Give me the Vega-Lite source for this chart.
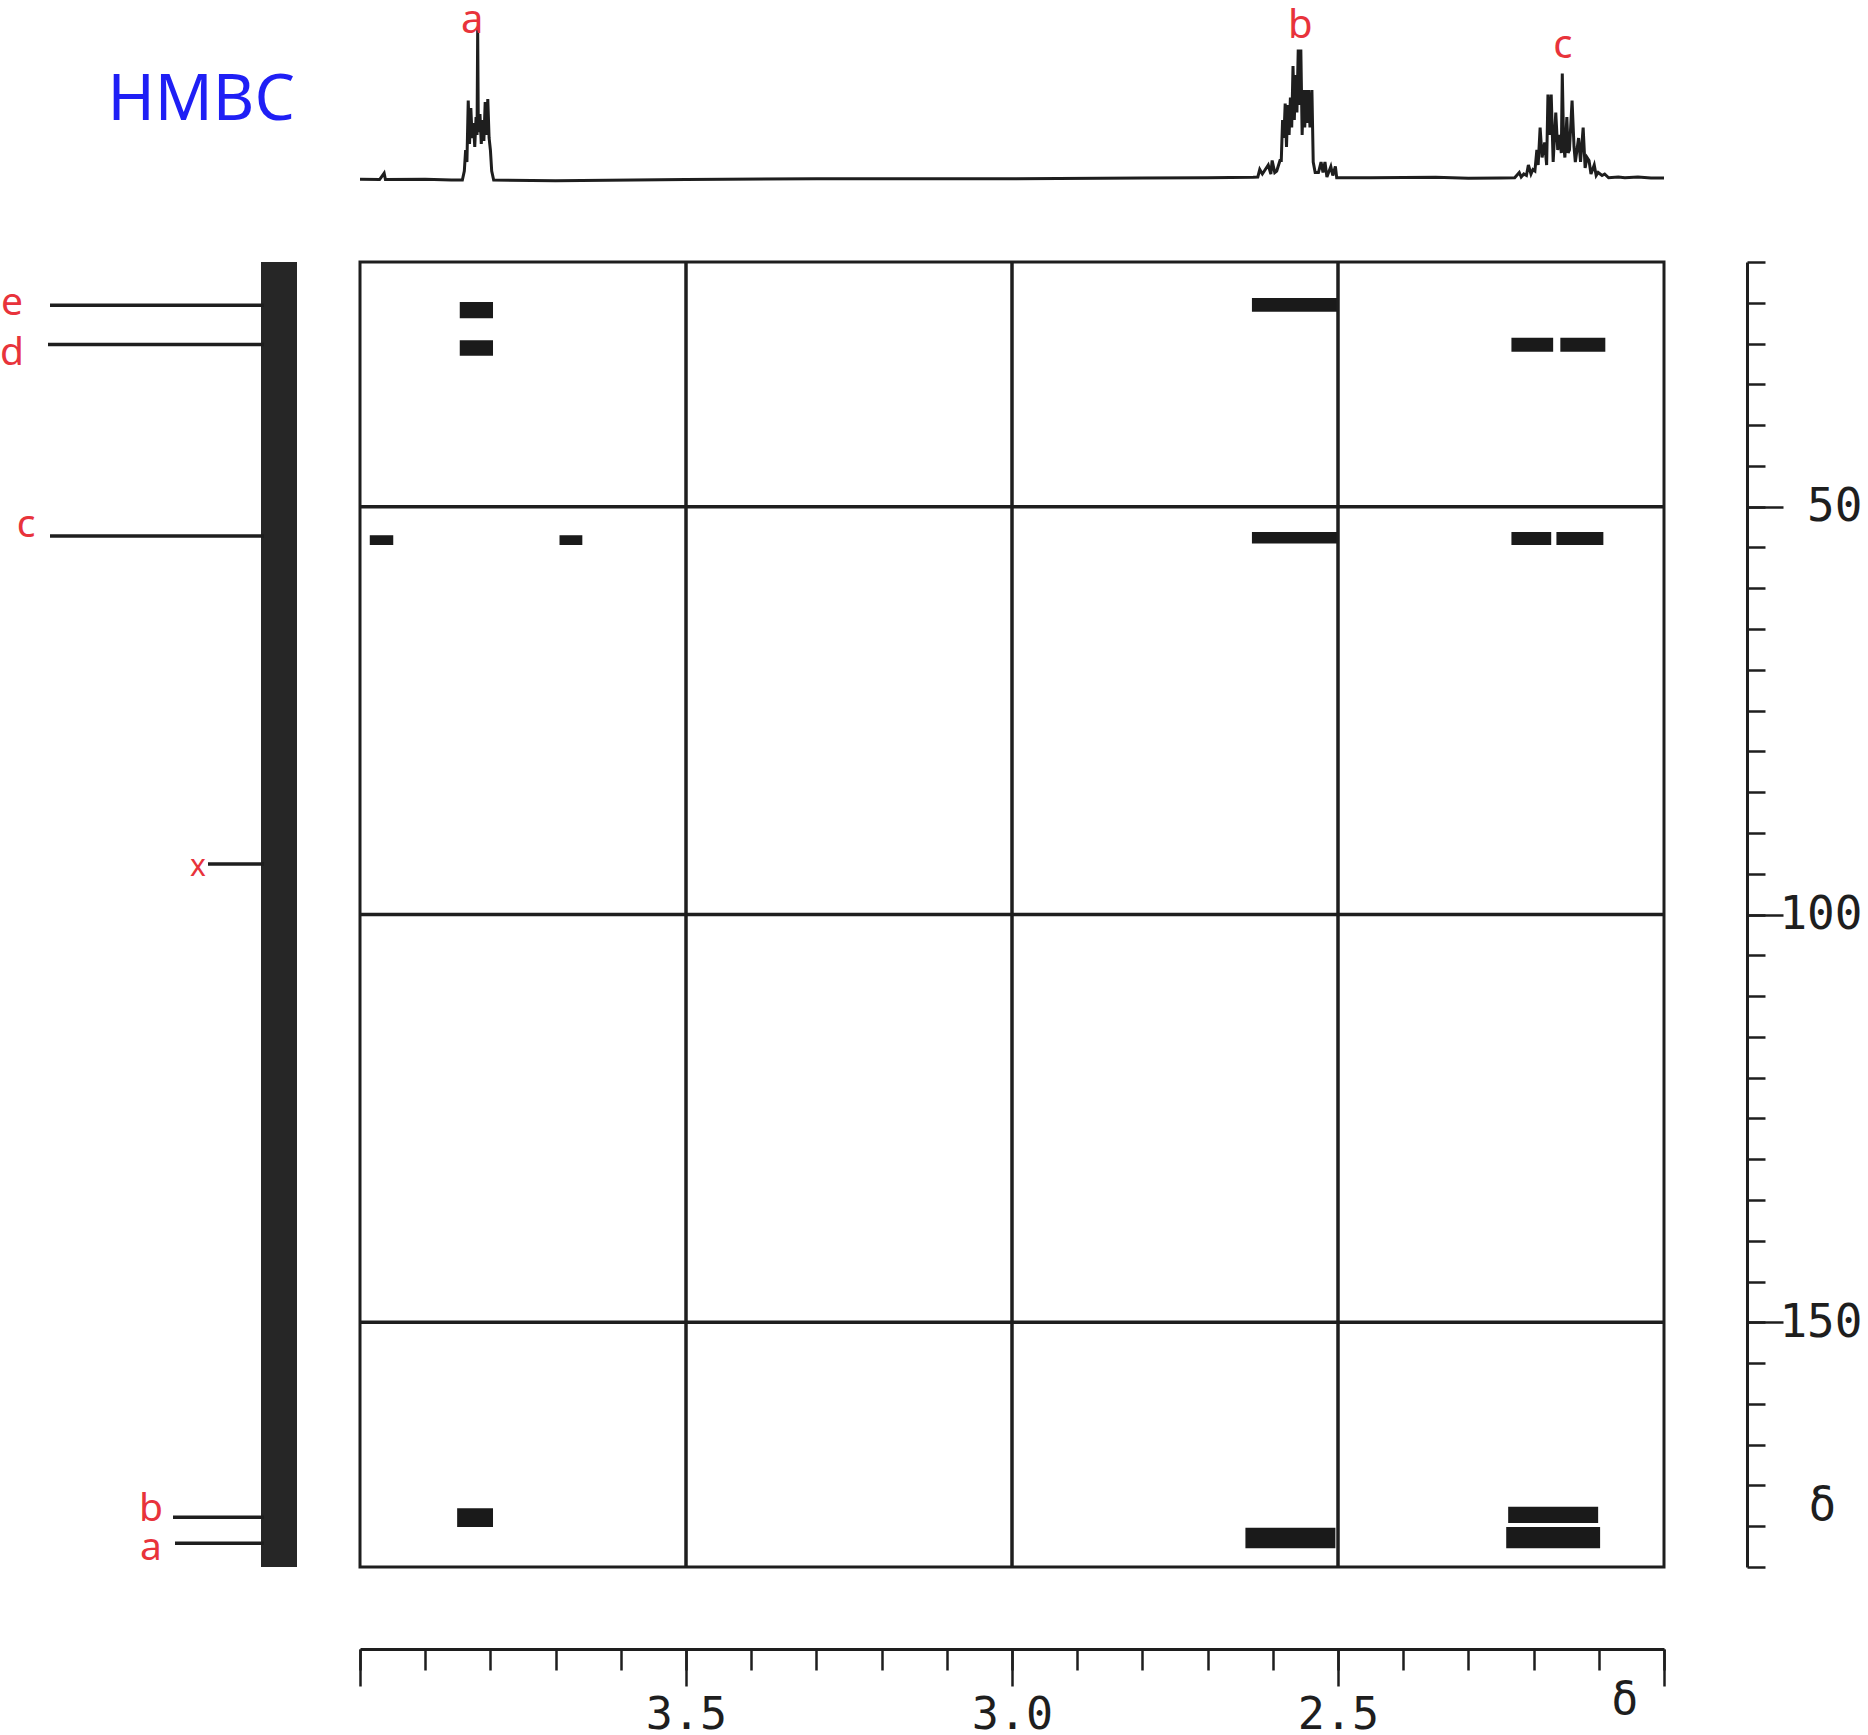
{
  "$schema": "https://vega.github.io/schema/vega-lite/v6.json",
  "padding": 0,
  "background": "white",
  "columns": 2,
  "spacing": {"row": 61, "column": 62},
  "bounds": "flush",
  "align": "each",
  "config": {"view": {"stroke": null}, "axis": {"grid": false, "labelFlush": false, "title": null, "labelOverlap": false, "labelBound": false}},
  "concat": [
    {
      "width": 298, "height": 201,
      "data": {"values": [{"label": "HMBC", "px": 0.675, "py": 0.5}]},
      "mark": {"type": "text", "font": "Noto Sans", "fontSize": 64, "color": "#1f1ff5", "align": "center", "baseline": "middle"},
      "encoding": {
        "x": {"field": "px", "type": "quantitative", "scale": {"domain": [0, 1]}, "axis": null},
        "y": {"field": "py", "type": "quantitative", "scale": {"domain": [0, 1]}, "axis": null},
        "text": {"field": "label"}
      }
    },
    {
      "width": 1304, "height": 201,
      "layer": [
        {
          "data": {"values": [
            {"h": 4.0, "i": 0.5}, {"h": 3.97, "i": 0.3}, {"h": 3.963, "i": 4.5}, {"h": 3.961, "i": 0.3}, {"h": 3.9, "i": 0.5}, {"h": 3.86, "i": 0}, {"h": 3.843, "i": 0},
            {"h": 3.840, "i": 6}, {"h": 3.838, "i": 20}, {"h": 3.836, "i": 12}, {"h": 3.834, "i": 53}, {"h": 3.832, "i": 24}, {"h": 3.830, "i": 48}, {"h": 3.828, "i": 28}, {"h": 3.826, "i": 38}, {"h": 3.824, "i": 22}, {"h": 3.822, "i": 42}, {"h": 3.8205, "i": 30}, {"h": 3.8195, "i": 101}, {"h": 3.8185, "i": 32}, {"h": 3.816, "i": 44}, {"h": 3.814, "i": 24}, {"h": 3.812, "i": 40}, {"h": 3.810, "i": 26}, {"h": 3.808, "i": 52}, {"h": 3.806, "i": 30}, {"h": 3.804, "i": 54}, {"h": 3.802, "i": 28}, {"h": 3.800, "i": 20}, {"h": 3.798, "i": 6}, {"h": 3.795, "i": 0},
            {"h": 3.7, "i": -0.5}, {"h": 3.5, "i": 0.3}, {"h": 3.3, "i": 0.8}, {"h": 3.0, "i": 0.8}, {"h": 2.8, "i": 1.3}, {"h": 2.7, "i": 1.5}, {"h": 2.63, "i": 1.8}, {"h": 2.623, "i": 2},
            {"h": 2.620, "i": 7}, {"h": 2.616, "i": 4}, {"h": 2.613, "i": 6}, {"h": 2.607, "i": 10}, {"h": 2.603, "i": 4}, {"h": 2.601, "i": 13}, {"h": 2.597, "i": 5}, {"h": 2.594, "i": 6}, {"h": 2.589, "i": 13}, {"h": 2.587, "i": 13}, {"h": 2.585, "i": 40}, {"h": 2.583, "i": 28}, {"h": 2.581, "i": 51}, {"h": 2.579, "i": 22}, {"h": 2.577, "i": 50}, {"h": 2.575, "i": 30}, {"h": 2.573, "i": 55}, {"h": 2.571, "i": 35}, {"h": 2.569, "i": 76}, {"h": 2.567, "i": 40}, {"h": 2.565, "i": 70}, {"h": 2.563, "i": 45}, {"h": 2.561, "i": 87}, {"h": 2.559, "i": 50}, {"h": 2.557, "i": 87}, {"h": 2.555, "i": 30}, {"h": 2.553, "i": 60}, {"h": 2.551, "i": 35}, {"h": 2.549, "i": 60}, {"h": 2.547, "i": 38}, {"h": 2.545, "i": 60}, {"h": 2.543, "i": 35}, {"h": 2.540, "i": 60}, {"h": 2.538, "i": 12}, {"h": 2.535, "i": 5}, {"h": 2.530, "i": 5}, {"h": 2.526, "i": 12}, {"h": 2.523, "i": 5}, {"h": 2.520, "i": 12}, {"h": 2.517, "i": 2}, {"h": 2.511, "i": 9}, {"h": 2.508, "i": 3}, {"h": 2.504, "i": 9}, {"h": 2.502, "i": 1.5},
            {"h": 2.45, "i": 1.5}, {"h": 2.35, "i": 1.8}, {"h": 2.30, "i": 1.2}, {"h": 2.25, "i": 1.3}, {"h": 2.229, "i": 1.5},
            {"h": 2.222, "i": 5}, {"h": 2.219, "i": 2}, {"h": 2.215, "i": 4}, {"h": 2.211, "i": 3}, {"h": 2.208, "i": 10}, {"h": 2.204, "i": 4}, {"h": 2.201, "i": 7}, {"h": 2.198, "i": 6}, {"h": 2.195, "i": 20}, {"h": 2.193, "i": 10}, {"h": 2.190, "i": 35}, {"h": 2.187, "i": 15}, {"h": 2.183, "i": 25}, {"h": 2.180, "i": 10}, {"h": 2.178, "i": 57}, {"h": 2.175, "i": 30}, {"h": 2.173, "i": 57}, {"h": 2.170, "i": 12}, {"h": 2.166, "i": 45}, {"h": 2.163, "i": 20}, {"h": 2.160, "i": 30}, {"h": 2.1575, "i": 18}, {"h": 2.156, "i": 71}, {"h": 2.154, "i": 25}, {"h": 2.152, "i": 15}, {"h": 2.149, "i": 42}, {"h": 2.147, "i": 18}, {"h": 2.145, "i": 20}, {"h": 2.141, "i": 53}, {"h": 2.138, "i": 22}, {"h": 2.136, "i": 12}, {"h": 2.131, "i": 28}, {"h": 2.128, "i": 12}, {"h": 2.124, "i": 35}, {"h": 2.121, "i": 8}, {"h": 2.118, "i": 15}, {"h": 2.115, "i": 13}, {"h": 2.112, "i": 4}, {"h": 2.107, "i": 10}, {"h": 2.104, "i": 3}, {"h": 2.101, "i": 5}, {"h": 2.095, "i": 3}, {"h": 2.091, "i": 4}, {"h": 2.085, "i": 1.5}, {"h": 2.07, "i": 2}, {"h": 2.06, "i": 1.5}, {"h": 2.04, "i": 2}, {"h": 2.02, "i": 1.3}, {"h": 2.0, "i": 1.3}
          ]},
          "mark": {"type": "line", "color": "#1e1e1e", "strokeWidth": 3},
          "encoding": {
            "x": {"field": "h", "type": "quantitative", "scale": {"domain": [2, 4], "reverse": true, "nice": false, "zero": false}, "axis": null},
            "y": {"field": "i", "type": "quantitative", "scale": {"domain": [-14, 120], "nice": false, "zero": false}, "axis": null}
          }
        },
        {
          "data": {"values": [{"h": 3.828, "i": 98, "t": "a"}, {"h": 2.558, "i": 94.7, "t": "b"}, {"h": 2.155, "i": 81.3, "t": "c"}]},
          "mark": {"type": "text", "font": "Noto Sans", "fontSize": 40, "color": "#e8333b", "align": "center", "baseline": "alphabetic"},
          "encoding": {
            "x": {"field": "h", "type": "quantitative", "scale": {"domain": [2, 4], "reverse": true, "nice": false, "zero": false}, "axis": null},
            "y": {"field": "i", "type": "quantitative", "scale": {"domain": [-14, 120], "nice": false, "zero": false}, "axis": null},
            "text": {"field": "t"}
          }
        }
      ]
    },
    {
      "width": 298, "height": 1305,
      "layer": [
        {
          "data": {"values": [{"li1": -19, "li2": 17, "lc1": 20, "lc2": 180}]},
          "mark": {"type": "rect", "color": "#262626"},
          "encoding": {
            "x": {"field": "li1", "type": "quantitative", "scale": {"domain": [-20, 278], "reverse": true, "nice": false, "zero": false}, "axis": null},
            "x2": {"field": "li2"},
            "y": {"field": "lc1", "type": "quantitative", "scale": {"domain": [20, 180], "reverse": true, "nice": false, "zero": false}, "axis": null},
            "y2": {"field": "lc2"}
          }
        },
        {
          "data": {"values": [
            {"li1": 228, "li2": 14, "lc": 25.3}, {"li1": 230, "li2": 14, "lc": 30.1}, {"li1": 228, "li2": 14, "lc": 53.6},
            {"li1": 70, "li2": 14, "lc": 93.8}, {"li1": 105, "li2": 14, "lc": 173.9}, {"li1": 103, "li2": 14, "lc": 177.1}
          ]},
          "mark": {"type": "rule", "color": "#1e1e1e", "strokeWidth": 3.5},
          "encoding": {
            "x": {"field": "li1", "type": "quantitative", "scale": {"domain": [-20, 278], "reverse": true, "nice": false, "zero": false}, "axis": null},
            "x2": {"field": "li2"},
            "y": {"field": "lc", "type": "quantitative", "scale": {"domain": [20, 180], "reverse": true, "nice": false, "zero": false}, "axis": null}
          }
        },
        {
          "data": {"values": [
            {"li": 266, "lc": 26.5, "t": "e"}, {"li": 266, "lc": 32.6, "t": "d"}, {"li": 252, "lc": 53.7, "t": "c"},
            {"li": 127, "lc": 174.3, "t": "b"}, {"li": 127, "lc": 179.2, "t": "a"}
          ]},
          "mark": {"type": "text", "font": "Noto Sans", "fontSize": 39, "color": "#e8333b", "align": "center", "baseline": "alphabetic"},
          "encoding": {
            "x": {"field": "li", "type": "quantitative", "scale": {"domain": [-20, 278], "reverse": true, "nice": false, "zero": false}, "axis": null},
            "y": {"field": "lc", "type": "quantitative", "scale": {"domain": [20, 180], "reverse": true, "nice": false, "zero": false}, "axis": null},
            "text": {"field": "t"}
          }
        },
        {
          "data": {"values": [{"li": 80, "lc": 95.3, "t": "x"}]},
          "mark": {"type": "text", "font": "Noto Sans", "fontSize": 30, "color": "#e8333b", "align": "center", "baseline": "alphabetic"},
          "encoding": {
            "x": {"field": "li", "type": "quantitative", "scale": {"domain": [-20, 278], "reverse": true, "nice": false, "zero": false}, "axis": null},
            "y": {"field": "lc", "type": "quantitative", "scale": {"domain": [20, 180], "reverse": true, "nice": false, "zero": false}, "axis": null},
            "text": {"field": "t"}
          }
        }
      ]
    },
    {
      "width": 1304, "height": 1305,
      "view": {"stroke": "#1e1e1e", "strokeWidth": 3},
      "resolve": {"axis": {"x": "independent", "y": "independent"}},
      "layer": [
        {
          "data": {"values": [
            {"x1": 3.847, "x2": 3.796, "c1": 24.9, "c2": 26.9},
            {"x1": 3.847, "x2": 3.796, "c1": 29.6, "c2": 31.5},
            {"x1": 3.985, "x2": 3.949, "c1": 53.5, "c2": 54.7},
            {"x1": 3.694, "x2": 3.659, "c1": 53.5, "c2": 54.7},
            {"x1": 2.632, "x2": 2.501, "c1": 24.4, "c2": 26.1},
            {"x1": 2.234, "x2": 2.170, "c1": 29.3, "c2": 31.0},
            {"x1": 2.159, "x2": 2.090, "c1": 29.3, "c2": 31.0},
            {"x1": 2.632, "x2": 2.501, "c1": 53.1, "c2": 54.5},
            {"x1": 2.234, "x2": 2.173, "c1": 53.1, "c2": 54.7},
            {"x1": 2.165, "x2": 2.093, "c1": 53.1, "c2": 54.7},
            {"x1": 3.851, "x2": 3.796, "c1": 172.8, "c2": 175.1},
            {"x1": 2.642, "x2": 2.504, "c1": 175.2, "c2": 177.7},
            {"x1": 2.239, "x2": 2.101, "c1": 172.6, "c2": 174.6},
            {"x1": 2.242, "x2": 2.098, "c1": 175.1, "c2": 177.7}
          ]},
          "mark": {"type": "rect", "color": "#1a1a1a"},
          "encoding": {
            "x": {"field": "x1", "type": "quantitative", "scale": {"domain": [2, 4], "reverse": true, "nice": false, "zero": false},
              "axis": {"orient": "bottom", "offset": 82, "values": [4.0, 3.9, 3.8, 3.7, 3.6, 3.5, 3.4, 3.3, 3.2, 3.1, 3.0, 2.9, 2.8, 2.7, 2.6, 2.5, 2.4, 2.3, 2.2, 2.1, 2.0], "tickSize": 21, "tickWidth": 2.5, "tickColor": "#1e1e1e", "domainColor": "#1e1e1e", "domainWidth": 3, "labels": false, "title": null, "grid": false}},
            "x2": {"field": "x2"},
            "y": {"field": "c1", "type": "quantitative", "scale": {"domain": [20, 180], "reverse": true, "nice": false, "zero": false},
              "axis": {"orient": "right", "offset": 83, "values": [20, 25, 30, 35, 40, 45, 50, 55, 60, 65, 70, 75, 80, 85, 90, 95, 100, 105, 110, 115, 120, 125, 130, 135, 140, 145, 150, 155, 160, 165, 170, 175, 180], "tickSize": 18, "tickWidth": 2.5, "tickColor": "#1e1e1e", "domainColor": "#1e1e1e", "domainWidth": 3, "labels": false, "title": null, "grid": false}},
            "y2": {"field": "c2"}
          }
        },
        {
          "data": {"values": [{"gx": 3.5}, {"gx": 3.0}, {"gx": 2.5}]},
          "mark": {"type": "rule", "color": "#1e1e1e", "strokeWidth": 3.5},
          "encoding": {
            "x": {"field": "gx", "type": "quantitative", "scale": {"domain": [2, 4], "reverse": true, "nice": false, "zero": false},
              "axis": {"orient": "bottom", "offset": 82, "values": [4.0, 3.5, 3.0, 2.5, 2.0], "tickSize": 37, "tickWidth": 2.5, "tickColor": "#1e1e1e", "domain": false, "labelExpr": "datum.value == 4 || datum.value == 2 ? '' : format(datum.value, '.1f')", "labelFont": "DejaVu Sans Mono", "labelFontSize": 45, "labelColor": "#1e1e1e", "labelPadding": 6, "title": null, "grid": false}}
          }
        },
        {
          "data": {"values": [{"gy": 50}, {"gy": 100}, {"gy": 150}]},
          "mark": {"type": "rule", "color": "#1e1e1e", "strokeWidth": 3.5},
          "encoding": {
            "y": {"field": "gy", "type": "quantitative", "scale": {"domain": [20, 180], "reverse": true, "nice": false, "zero": false},
              "axis": {"orient": "right", "offset": 83, "values": [50, 100, 150], "tickSize": 36, "tickWidth": 2.5, "tickColor": "#1e1e1e", "domain": false, "labelFont": "DejaVu Sans Mono", "labelFontSize": 46, "labelColor": "#1e1e1e", "labelAlign": "right", "labelBaseline": "middle", "labelPadding": 79, "title": null, "grid": false}}
          }
        },
        {
          "data": {"values": [{"dx": 2.061, "dy": 172.4}]},
          "mark": {"type": "point", "opacity": 0},
          "encoding": {
            "x": {"field": "dx", "type": "quantitative", "scale": {"domain": [2, 4], "reverse": true, "nice": false, "zero": false},
              "axis": {"orient": "bottom", "offset": 82, "values": [2.061], "ticks": false, "tickSize": 0, "domain": false, "labelExpr": "'δ'", "labelFont": "DejaVu Sans Mono", "labelFontSize": 45, "labelColor": "#1e1e1e", "labelPadding": 28, "title": null, "grid": false}},
            "y": {"field": "dy", "type": "quantitative", "scale": {"domain": [20, 180], "reverse": true, "nice": false, "zero": false},
              "axis": {"orient": "right", "offset": 83, "values": [172.4], "ticks": false, "tickSize": 0, "domain": false, "labelExpr": "'δ'", "labelFont": "DejaVu Sans Mono", "labelFontSize": 46, "labelColor": "#1e1e1e", "labelAlign": "left", "labelBaseline": "middle", "labelPadding": 61, "title": null, "grid": false}}
          }
        }
      ]
    }
  ]
}
